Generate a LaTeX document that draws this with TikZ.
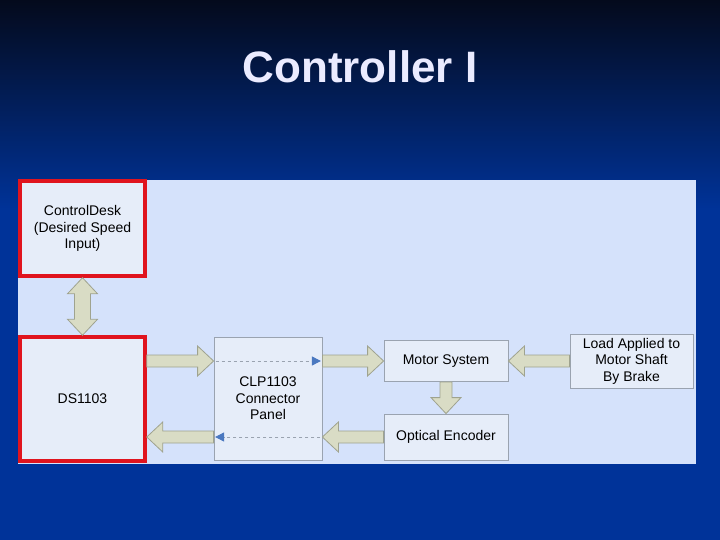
\documentclass[tikz,border=0pt]{standalone}
\usepackage{fontspec}
\setmainfont{Liberation Sans}
\usepackage{xcolor}
\usepackage{tikz}
\usetikzlibrary{positioning,calc,arrows.meta}

\definecolor{slidetop}{HTML}{040A1C}
\definecolor{slideblue}{HTML}{003399}
\definecolor{panelblue}{HTML}{D5E2FB}
\definecolor{boxfill}{HTML}{E6EDF9}
\definecolor{boxline}{HTML}{9AA3B0}
\definecolor{ctrlred}{HTML}{E0141E}
\definecolor{arrowfill}{HTML}{D9DCC5}
\definecolor{arrowline}{HTML}{9FA38F}
\definecolor{flowblue}{HTML}{4A78C0}

\tikzset{
  block/.style={draw=boxline, line width=0.8pt, fill=boxfill, align=center,
    font=\fontsize{14}{16.5}\selectfont, inner sep=2pt},
  hostblock/.style={block, draw=ctrlred, line width=3.5pt},
  blockarrow/.style={draw=arrowline, line width=0.8pt, fill=arrowfill, line join=miter},
  dataflow/.style={draw=boxline, dashed, line width=0.6pt,
    -{Triangle[length=9pt,width=9pt,fill=flowblue,color=flowblue]}}
}

% block arrow from #1 to #2
\newcommand{\shaftw}{6pt}
\newcommand{\headw}{15pt}
\newcommand{\headlen}{16pt}
\newcommand{\fatarrow}[2]{%
  \coordinate (hd) at ($(#2)!\headlen!(#1)$);
  \draw[blockarrow] ($(#1)!\shaftw!90:(#2)$) -- ($(hd)!\shaftw!90:(#2)$)
    -- ($(hd)!\headw!90:(#2)$) -- (#2) -- ($(hd)!\headw!-90:(#2)$)
    -- ($(hd)!\shaftw!-90:(#2)$) -- ($(#1)!\shaftw!-90:(#2)$) -- cycle;}
% block arrow with two heads
\newcommand{\fatdoublearrow}[2]{%
  \coordinate (ha) at ($(#1)!\headlen!(#2)$);
  \coordinate (hb) at ($(#2)!\headlen!(#1)$);
  \draw[blockarrow] (#1) -- ($(ha)!\headw!90:(#2)$) -- ($(ha)!8pt!90:(#2)$)
    -- ($(hb)!8pt!-90:(#1)$) -- ($(hb)!\headw!-90:(#1)$) -- (#2)
    -- ($(hb)!\headw!90:(#1)$) -- ($(hb)!8pt!90:(#1)$)
    -- ($(ha)!8pt!-90:(#2)$) -- ($(ha)!\headw!-90:(#2)$) -- cycle;}

\begin{document}
\begin{tikzpicture}[x=1pt, y=-1pt]
  % slide background
  \fill[slideblue] (0,0) rectangle (720,540);
  \fill[top color=slidetop, bottom color=slideblue] (0,0) rectangle (720,210);
  \node[text=white!92!blue, font=\fontsize{44}{50}\selectfont\bfseries] (title) at (360,67) {Controller I};

  % diagram panel
  \fill[panelblue] (18,180) rectangle (696,464);

  % blocks
  \node[hostblock, minimum width=125pt, minimum height=95pt] (desk) at (82.5,228.5)
    {ControlDesk\\(Desired Speed\\Input)};
  \node[hostblock, minimum width=125pt, minimum height=124pt] (ds) at (82.5,399) {DS1103};
  \node[block, minimum width=108pt, minimum height=123pt] (clp) at (268,398.5)
    {CLP1103\\Connector\\Panel};
  \node[block, minimum width=124pt, minimum height=41pt] (motor) at (446,361) {Motor System};
  \node[block, minimum width=124pt, minimum height=46pt] (enc) at (446,437) {Optical Encoder};
  \node[block, minimum width=123pt, minimum height=54pt] (load) at (631.5,361)
    {Load Applied to\\Motor Shaft\\By Brake};

  % rows of the signal paths
  \coordinate (upper) at (0,361);
  \coordinate (lower) at (0,437);
  \coordinate (dsout) at (ds.east|-upper);
  \coordinate (dsin) at (ds.east|-lower);
  \coordinate (clpinA) at (clp.west|-upper);
  \coordinate (clpinB) at (clp.west|-lower);
  \coordinate (clpoutA) at (clp.east|-upper);
  \coordinate (clpoutB) at (clp.east|-lower);

  % block arrows
  \fatdoublearrow{desk.south}{ds.north}
  \fatarrow{dsout}{clpinA}
  \fatarrow{clpinB}{dsin}
  \fatarrow{clpoutA}{motor.west}
  \fatarrow{enc.west}{clpoutB}
  \fatarrow{motor.south}{enc.north}
  \fatarrow{load.west}{motor.east}

  % signals through the connector panel
  \draw[dataflow, shorten <=2pt, shorten >=1.5pt] (clpinA) -- (clpoutA);
  \draw[dataflow, shorten <=2pt, shorten >=1.5pt] (clpoutB) -- (clpinB);
\end{tikzpicture}
\end{document}
